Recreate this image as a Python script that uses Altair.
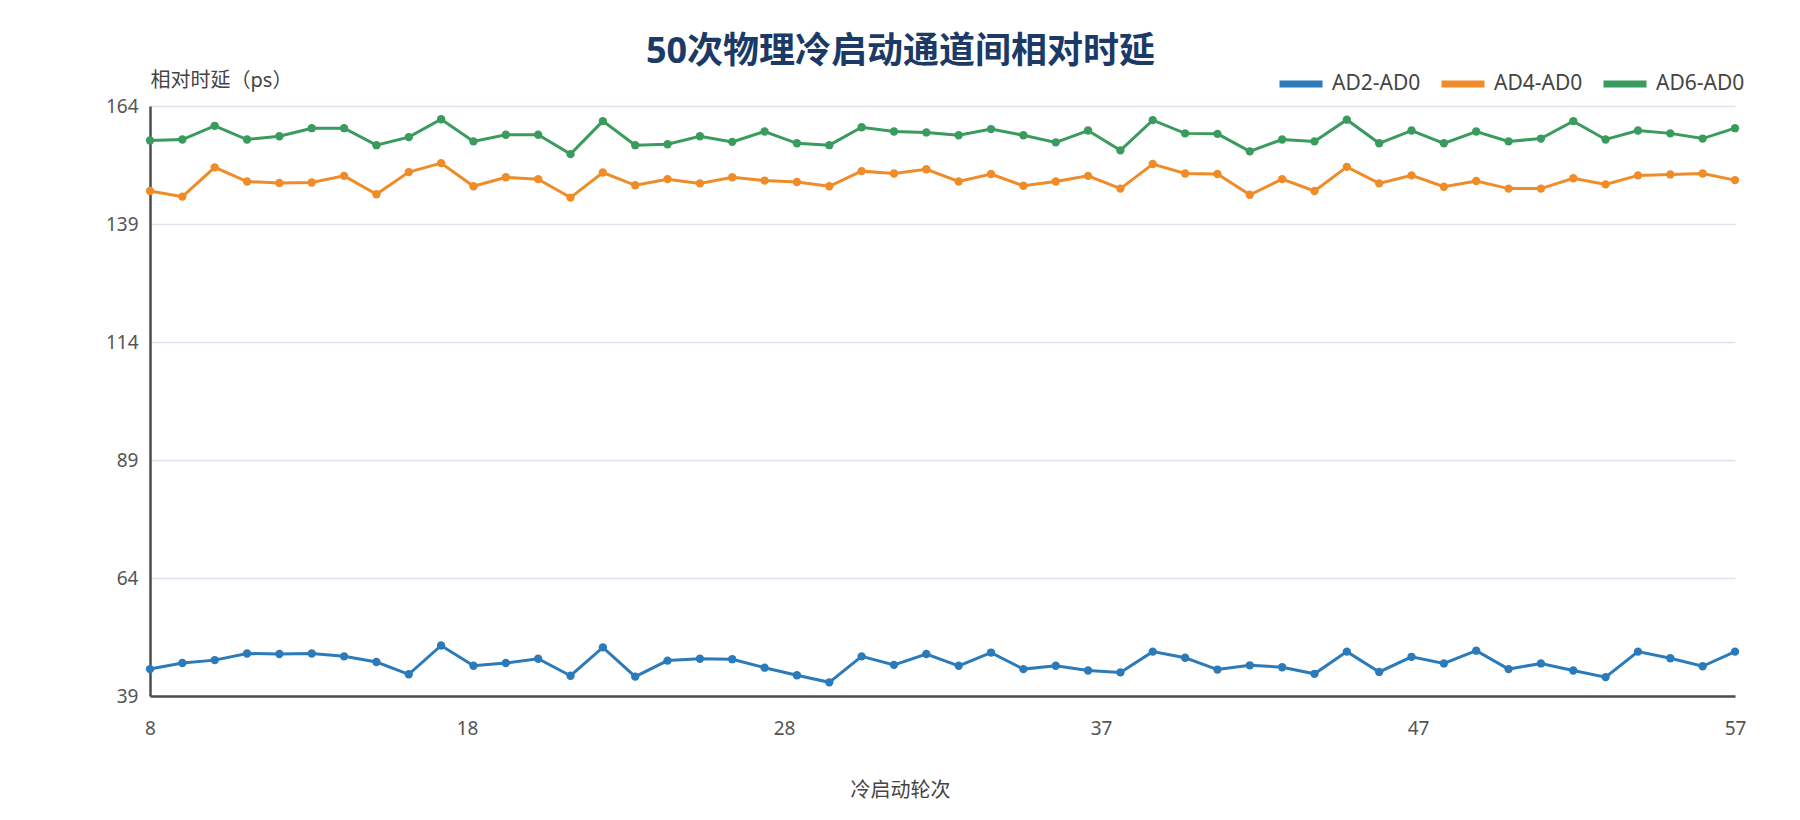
import altair as alt
import pandas as pd

rounds = list(range(8, 58))
series_names = ["AD2-AD0", "AD4-AD0", "AD6-AD0"]
series_colors = ["#2b7ab9", "#f08c28", "#399b5d"]

ad2_ad0 = [44.7, 46.0, 46.6, 48.0, 47.9, 48.0, 47.4, 46.2, 43.6, 49.7,
           45.4, 46.0, 46.9, 43.3, 49.3, 43.1, 46.5, 46.9, 46.8, 45.0,
           43.4, 41.9, 47.4, 45.6, 47.9, 45.4, 48.2, 44.7, 45.4, 44.4,
           44.0, 48.4, 47.1, 44.6, 45.5, 45.1, 43.7, 48.4, 44.1, 47.3,
           45.9, 48.6, 44.7, 45.9, 44.4, 43.0, 48.4, 47.0, 45.3, 48.4]
ad4_ad0 = [146.0, 144.8, 151.0, 148.0, 147.7, 147.8, 149.2, 145.3, 150.0, 151.9,
           147.0, 148.9, 148.5, 144.6, 149.9, 147.2, 148.5, 147.6, 148.9, 148.2,
           147.9, 147.0, 150.2, 149.7, 150.6, 148.0, 149.6, 147.1, 148.0, 149.2,
           146.5, 151.7, 149.7, 149.6, 145.2, 148.5, 146.0, 151.1, 147.6, 149.3,
           146.9, 148.1, 146.5, 146.5, 148.7, 147.4, 149.3, 149.5, 149.7, 148.3]
ad6_ad0 = [156.7, 156.9, 159.8, 156.9, 157.6, 159.3, 159.3, 155.7, 157.4, 161.2,
           156.5, 157.9, 157.9, 153.8, 160.8, 155.7, 155.9, 157.6, 156.4, 158.6,
           156.1, 155.7, 159.5, 158.6, 158.4, 157.8, 159.1, 157.8, 156.3, 158.8,
           154.6, 161.0, 158.2, 158.1, 154.4, 156.9, 156.5, 161.1, 156.1, 158.8,
           156.1, 158.6, 156.5, 157.1, 160.8, 156.9, 158.8, 158.2, 157.1, 159.3]

x_ticks = [8, 17.8, 27.6, 37.4, 47.2, 57]
y_ticks = [39, 64, 89, 114, 139, 164]

frames = []
for name, vals in zip(series_names, [ad2_ad0, ad4_ad0, ad6_ad0]):
    frames.append(pd.DataFrame({"round": rounds, "delay": vals, "pair": name}))
df = pd.concat(frames, ignore_index=True)

FONT = "'Noto Sans', 'Noto Sans CJK SC', sans-serif"

chart = alt.Chart(df).mark_line(
    strokeWidth=3,
    point=alt.OverlayMarkDef(size=70, filled=True, opacity=1)
).encode(
    x=alt.X("round:Q",
            scale=alt.Scale(domain=[8, 57], nice=False, zero=False),
            axis=alt.Axis(values=x_ticks, labelExpr="round(datum.value)",
                          grid=False, ticks=False, labelPadding=23, labelFlush=False,
                          labelFontSize=19, labelColor="#555555",
                          title="冷启动轮次", titleFontSize=20, titleFontWeight="normal",
                          titleColor="#444444", titleX=750, titleY=94,
                          titleAlign="center", titleBaseline="middle")),
    y=alt.Y("delay:Q",
            scale=alt.Scale(domain=[39, 164], nice=False, zero=False),
            axis=alt.Axis(values=y_ticks, grid=True, ticks=False, labelPadding=12,
                          labelFontSize=19, labelColor="#555555",
                          title="相对时延（ps）", titleFontSize=20, titleFontWeight="normal",
                          titleColor="#444444", titleAngle=0, titleX=0, titleY=-26,
                          titleAlign="left", titleBaseline="middle")),
    color=alt.Color("pair:N",
                    scale=alt.Scale(domain=series_names, range=series_colors),
                    legend=alt.Legend(title=None, orient="none", direction="horizontal",
                                      legendX=1126, legendY=-47,
                                      symbolType="stroke", symbolSize=1849,
                                      symbolStrokeWidth=7, labelFontSize=21,
                                      labelColor="#444444", labelOffset=6,
                                      columnPadding=6))
).properties(
    width=1585,
    height=590,
    padding={"left": 142, "top": 98, "right": 50, "bottom": 118},
    autosize=alt.AutoSizeParams(type="none"),
    title=alt.Title("50次物理冷启动通道间相对时延", fontSize=36, fontWeight="bold",
                    color="#1b3a66", anchor="middle", dx=-42, dy=12, offset=0)
).configure(
    font=FONT
).configure_view(
    stroke=None
).configure_axis(
    domainColor="#4d4d4d",
    domainWidth=2.5,
    gridColor="#dde3ec",
    gridWidth=1.5
)

chart.save("out.html", embed_options={"renderer": "svg", "actions": False})
